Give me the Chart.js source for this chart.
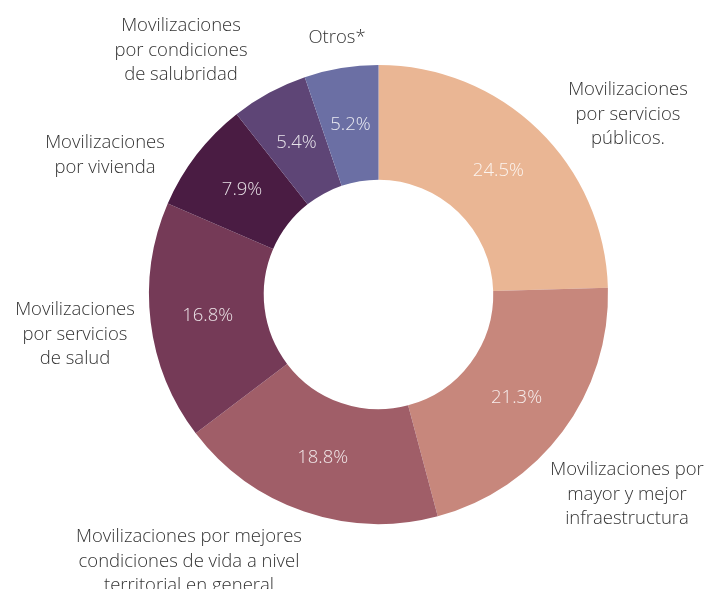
<!DOCTYPE html>
<html>
<head>
<meta charset="utf-8">
<script src="https://cdn.jsdelivr.net/npm/chart.js@4"></script>
<style>
    html, body { margin: 0; padding: 0; background: #fff; }
    #wrap { width: 716px; height: 589px; position: relative; }
</style>
</head>
<body>
<div id="wrap"><canvas id="donutChart" width="716" height="589"></canvas></div>
<script>
var categories = [
    ['Movilizaciones', 'por servicios', 'públicos.'],
    ['Movilizaciones por', 'mayor y mejor', 'infraestructura'],
    ['Movilizaciones por mejores', 'condiciones de vida a nivel', 'territorial en general'],
    ['Movilizaciones', 'por servicios', 'de salud'],
    ['Movilizaciones', 'por vivienda'],
    ['Movilizaciones', 'por condiciones', 'de salubridad'],
    ['Otros*']
];
var shares = [24.5, 21.3, 18.8, 16.8, 7.9, 5.4, 5.2];
var colors = ['#eab694', '#c7877c', '#a05e68', '#753a57', '#4a1c43', '#5e4576', '#6b6fa4'];

// where each outside label block is centred (first line middle)
var labelPos = [
    { x: 628, y: 90 },
    { x: 627, y: 470 },
    { x: 189, y: 537 },
    { x: 75, y: 310 },
    { x: 105, y: 143 },
    { x: 181, y: 26 },
    { x: 337, y: 38 }
];

var fontFamily = '"Open Sans", "Noto Sans", sans-serif';

var labelPlugin = {
    id: 'sliceLabels',
    afterDatasetsDraw: function (chart) {
        var ctx = chart.ctx;
        var meta = chart.getDatasetMeta(0);
        ctx.save();
        ctx.textAlign = 'center';
        ctx.textBaseline = 'middle';

        // percentages inside the ring
        ctx.font = '300 18.5px ' + fontFamily;
        ctx.fillStyle = 'rgba(255,255,255,0.85)';
        for (var i = 0; i < meta.data.length; i++) {
            var p = meta.data[i].tooltipPosition();
            ctx.fillText(shares[i].toFixed(1) + '%', p.x, p.y);
        }

        // category names outside
        ctx.font = '300 18.5px ' + fontFamily;
        ctx.fillStyle = '#333';
        for (var j = 0; j < categories.length; j++) {
            var lines = categories[j];
            for (var k = 0; k < lines.length; k++) {
                ctx.fillText(lines[k], labelPos[j].x, labelPos[j].y + k * 24.5);
            }
        }
        ctx.restore();
    }
};

new Chart(document.getElementById('donutChart').getContext('2d'), {
    type: 'doughnut',
    data: {
        labels: categories.map(function (c) { return c.join(' '); }),
        datasets: [{
            data: shares,
            backgroundColor: colors,
            borderWidth: 0
        }]
    },
    options: {
        responsive: false,
        animation: false,
        cutout: '50%',
        layout: {
            padding: { left: 149, right: 108, top: 65, bottom: 65 }
        },
        plugins: {
            legend: { display: false },
            tooltip: { enabled: false }
        }
    },
    plugins: [labelPlugin]
});
</script>
</body>
</html>
